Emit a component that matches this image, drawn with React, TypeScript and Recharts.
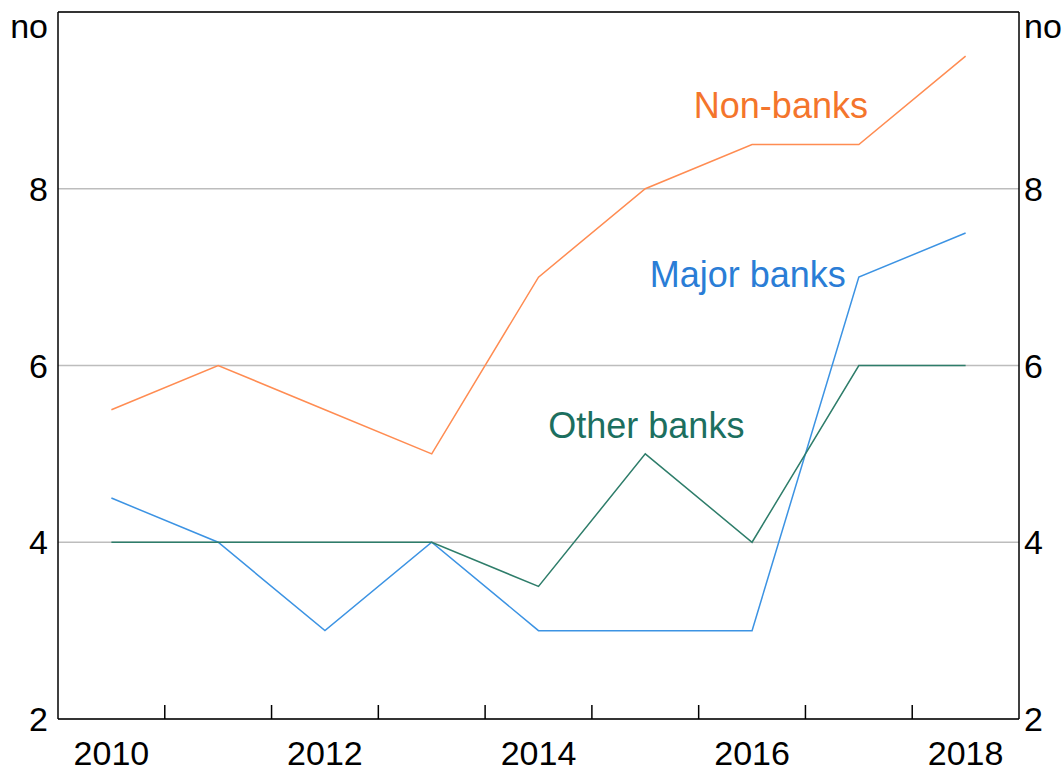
import React from "react";
import { LineChart, Line, XAxis, YAxis, CartesianGrid, ReferenceLine, ReferenceDot } from "recharts";

const years = [2010, 2011, 2012, 2013, 2014, 2015, 2016, 2017, 2018];
const nonBanks = [5.5, 6, 5.5, 5, 7, 8, 8.5, 8.5, 9.5];
const majorBanks = [4.5, 4, 3, 4, 3, 3, 3, 7, 7.5];
const otherBanks = [4, 4, 4, 4, 3.5, 5, 4, 6, 6];

const xLabelYears = [2010, 2012, 2014, 2016, 2018];
const xBoundaries = [2010.5, 2011.5, 2012.5, 2013.5, 2014.5, 2015.5, 2016.5, 2017.5];
const yTicks = [2, 4, 6, 8, 10];
const yTopLabel = "no";

const annotations = [
  { text: "Non-banks", x: 2016.27, y: 8.8, color: "#F4752C" },
  { text: "Major banks", x: 2015.96, y: 6.89, color: "#2A7DD6" },
  { text: "Other banks", x: 2015.01, y: 5.18, color: "#1C6F5F" },
];

const data = years.map((y, i) => ({
  year: y,
  nonBanks: nonBanks[i],
  majorBanks: majorBanks[i],
  otherBanks: otherBanks[i],
}));

const xTicks = [...xLabelYears, ...xBoundaries].sort((a, b) => a - b);

const FONT = "'Liberation Sans', Arial, sans-serif";

const XTick = (props: any) => {
  const { x, y, payload } = props;
  const v = payload.value;
  if (xBoundaries.includes(v)) {
    return <line x1={x} x2={x} y1={y} y2={y - 14} stroke="#000" strokeWidth={1.5} />;
  }
  return (
    <text x={x} y={y + 46} textAnchor="middle" fontSize={34} fontFamily={FONT} fill="#000">
      {v}
    </text>
  );
};

const LeftTick = (props: any) => {
  const { x, y, payload } = props;
  const v = payload.value;
  return (
    <text x={x} y={v === 10 ? y + 26 : y + 12} textAnchor="end" fontSize={34} fontFamily={FONT} fill="#000">
      {v === 10 ? yTopLabel : v}
    </text>
  );
};

const RightTick = (props: any) => {
  const { x, y, payload } = props;
  const v = payload.value;
  return (
    <text x={x} y={v === 10 ? y + 26 : y + 12} textAnchor="start" fontSize={34} fontFamily={FONT} fill="#000">
      {v === 10 ? yTopLabel : v}
    </text>
  );
};

export default function App() {
  return (
    <div style={{ position: "absolute", left: 0, top: 0, width: 1064, height: 771, background: "#fff" }}>
      <LineChart width={1064} height={771} data={data} margin={{ top: 12, right: 0, bottom: 0, left: 0 }}>
        <CartesianGrid yAxisId="left" vertical={false} stroke="#BDBDBD" strokeWidth={1.5} />
        <XAxis
          dataKey="year"
          type="number"
          domain={[2009.5, 2018.5]}
          ticks={xTicks}
          interval={0}
          height={52}
          tickSize={0}
          tickMargin={0}
          tickLine={false}
          axisLine={{ stroke: "#000", strokeWidth: 1.5 }}
          tick={<XTick />}
        />
        <YAxis
          yAxisId="left"
          orientation="left"
          domain={[2, 10]}
          ticks={yTicks}
          interval={0}
          width={58}
          tickSize={0}
          tickMargin={10}
          tickLine={false}
          axisLine={{ stroke: "#000", strokeWidth: 1.5 }}
          tick={<LeftTick />}
        />
        <YAxis
          yAxisId="right"
          orientation="right"
          domain={[2, 10]}
          ticks={yTicks}
          interval={0}
          width={45}
          tickSize={0}
          tickMargin={5}
          tickLine={false}
          allowDataOverflow
          axisLine={{ stroke: "#000", strokeWidth: 1.5 }}
          tick={<RightTick />}
        />
        <ReferenceLine yAxisId="left" y={10} stroke="#000" strokeWidth={1.5} />
        <Line yAxisId="right" dataKey="nonBanks" stroke="transparent" strokeWidth={0} dot={false} activeDot={false} legendType="none" isAnimationActive={false} />
        <Line yAxisId="left" dataKey="majorBanks" stroke="#3C93E3" strokeWidth={1.5} dot={false} isAnimationActive={false} />
        <Line yAxisId="left" dataKey="otherBanks" stroke="#2E7D6A" strokeWidth={1.5} dot={false} isAnimationActive={false} />
        <Line yAxisId="left" dataKey="nonBanks" stroke="#FF8C52" strokeWidth={1.5} dot={false} isAnimationActive={false} />
        {annotations.map((a) => (
          <ReferenceDot
            key={a.text}
            yAxisId="left"
            x={a.x}
            y={a.y}
            r={0}
            ifOverflow="visible"
            shape={(p: any) => (
              <text x={p.cx} y={p.cy} textAnchor="middle" fontSize={36} fontFamily={FONT} fill={a.color}>
                {a.text}
              </text>
            )}
          />
        ))}
      </LineChart>
    </div>
  );
}
